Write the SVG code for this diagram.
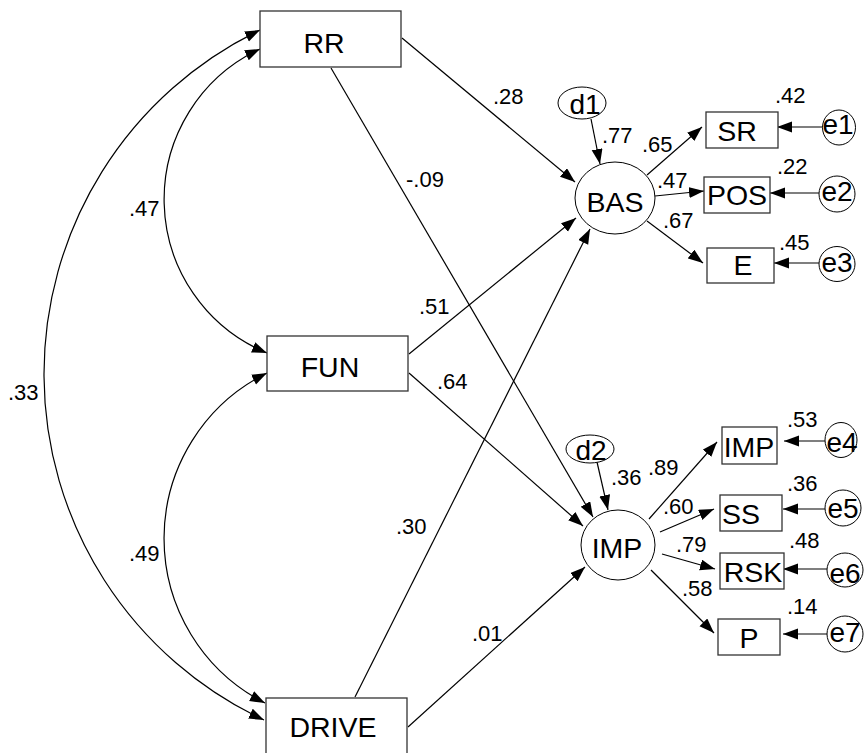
<svg xmlns="http://www.w3.org/2000/svg" width="864" height="753" viewBox="0 0 864 753">
<defs>
<marker id="arr" markerUnits="userSpaceOnUse" markerWidth="16" markerHeight="12" refX="15" refY="5.5" orient="auto-start-reverse">
<path d="M0,0 L15,5.5 L0,11 z" fill="#000"/>
</marker>
</defs>
<style>
.box{fill:#fff;stroke:#333;stroke-width:1.3}
.lat{fill:#fff;stroke:#000;stroke-width:1}
.lbl{font-family:"Liberation Sans",Arial,Helvetica,sans-serif;font-size:28.5px;fill:#000;text-anchor:middle}
.err{font-family:"Liberation Sans",Arial,Helvetica,sans-serif;font-size:28px;fill:#000;text-anchor:middle}
.num{font-family:"Liberation Sans",Arial,Helvetica,sans-serif;font-size:22px;fill:#000}
.c{fill:none;stroke:#000;stroke-width:1.2;marker-end:url(#arr)}
.cc{fill:none;stroke:#000;stroke-width:1.2;marker-start:url(#arr);marker-end:url(#arr)}
</style>
<rect width="864" height="753" fill="#fff"/>
<g id="connectors">
<path class="c" d="M402,38 L575,182"/>
<path class="c" d="M331,68 L593,517"/>
<path class="c" d="M409,354 L576,218"/>
<path class="c" d="M409,373 L583,526"/>
<path class="c" d="M355,697 L590,229"/>
<path class="c" d="M408,727 L585,567"/>
<path class="c" d="M591,119 L600,164"/>
<path class="c" d="M597,462 L608,510"/>
<path class="c" d="M647,175 L702,127"/>
<path class="c" d="M655,196 L704,191"/>
<path class="c" d="M647,221 L703,263"/>
<path class="c" d="M649,519 L717,442"/>
<path class="c" d="M660,532 L714,509"/>
<path class="c" d="M662,554 L715,569"/>
<path class="c" d="M651,570 L714,633"/>
<path class="c" d="M823,127 L777,127"/>
<path class="c" d="M819,193 L770,193"/>
<path class="c" d="M819,263 L774,263"/>
<path class="c" d="M825,441 L784,441"/>
<path class="c" d="M825,509 L783,509"/>
<path class="c" d="M827,569 L783,569"/>
<path class="c" d="M827,634 L783,634"/>
<path class="cc" d="M260,49 A166,166 0 0 0 267,353"/>
<path class="cc" d="M267,373 A184.5,184.5 0 0 0 265,703"/>
<path class="cc" d="M260,30 A382,382 0 0 0 264,720"/>
</g>
<g id="RR"><rect class="box" x="260" y="11" width="141" height="56"/><text class="lbl" x="324" y="53">RR</text></g>
<g id="FUN"><rect class="box" x="267" y="336" width="141" height="55"/><text class="lbl" x="330" y="377">FUN</text></g>
<g id="DRIVE"><rect class="box" x="266" y="698" width="141" height="56"/><text class="lbl" x="333" y="737">DRIVE</text></g>
<g id="BAS"><ellipse class="lat" cx="615" cy="198" rx="40" ry="36"/><text class="lbl" x="615" y="212">BAS</text></g>
<g id="IMP_latent"><ellipse class="lat" cx="618" cy="545" rx="37" ry="35"/><text class="lbl" x="617" y="558">IMP</text></g>
<g id="d1"><ellipse class="lat" cx="582" cy="103" rx="24" ry="16"/><text class="err" x="585" y="114">d1</text></g>
<g id="d2"><ellipse class="lat" cx="590" cy="449" rx="24" ry="14"/><text class="err" x="591" y="460">d2</text></g>
<g id="SR"><rect class="box" x="706" y="112" width="72" height="36"/><text class="lbl" x="737" y="141">SR</text></g>
<g id="POS"><rect class="box" x="704" y="177" width="66" height="36"/><text class="lbl" x="737" y="205">POS</text></g>
<g id="E"><rect class="box" x="707" y="248" width="67" height="35"/><text class="lbl" x="743" y="275">E</text></g>
<g id="IMP_obs"><rect class="box" x="722" y="427" width="55" height="37"/><text class="lbl" x="749" y="457">IMP</text></g>
<g id="SS"><rect class="box" x="720" y="495" width="62" height="36"/><text class="lbl" x="741" y="524">SS</text></g>
<g id="RSK"><rect class="box" x="720" y="553" width="64" height="36"/><text class="lbl" x="753" y="582">RSK</text></g>
<g id="P"><rect class="box" x="718" y="619" width="62" height="36"/><text class="lbl" x="749" y="648">P</text></g>
<g id="e1"><ellipse class="lat" cx="839" cy="127.5" rx="16.5" ry="17.5"/><text class="err" x="838" y="134">e1</text></g>
<g id="e2"><ellipse class="lat" cx="837" cy="194" rx="18" ry="18"/><text class="err" x="837" y="201">e2</text></g>
<g id="e3"><ellipse class="lat" cx="837" cy="264" rx="18" ry="17.5"/><text class="err" x="837" y="272">e3</text></g>
<g id="e4"><ellipse class="lat" cx="841" cy="440" rx="16" ry="17.5"/><text class="err" x="842" y="452">e4</text></g>
<g id="e5"><ellipse class="lat" cx="843" cy="508" rx="18" ry="18"/><text class="err" x="843" y="518">e5</text></g>
<g id="e6"><ellipse class="lat" cx="845" cy="570" rx="18" ry="17"/><text class="err" x="845" y="583">e6</text></g>
<g id="e7"><ellipse class="lat" cx="845" cy="634" rx="18" ry="18"/><text class="err" x="845" y="642">e7</text></g>
<g id="labels">
<text class="num" x="775" y="103">.42</text>
<text class="num" x="777" y="174">.22</text>
<text class="num" x="779" y="250">.45</text>
<text class="num" x="602" y="143">.77</text>
<text class="num" x="642" y="152">.65</text>
<text class="num" x="657" y="188">.47</text>
<text class="num" x="663" y="228">.67</text>
<text class="num" x="787" y="427">.53</text>
<text class="num" x="787" y="491">.36</text>
<text class="num" x="789" y="548">.48</text>
<text class="num" x="787" y="614">.14</text>
<text class="num" x="611" y="485">.36</text>
<text class="num" x="648" y="475">.89</text>
<text class="num" x="663" y="514">.60</text>
<text class="num" x="676" y="552">.79</text>
<text class="num" x="682" y="596">.58</text>
<text class="num" x="493" y="104">.28</text>
<text class="num" x="406" y="187">-.09</text>
<text class="num" x="419" y="314">.51</text>
<text class="num" x="437" y="389">.64</text>
<text class="num" x="396" y="534">.30</text>
<text class="num" x="472" y="641">.01</text>
<text class="num" x="129" y="216">.47</text>
<text class="num" x="129" y="561">.49</text>
<text class="num" x="8" y="400">.33</text>
</g>
</svg>
